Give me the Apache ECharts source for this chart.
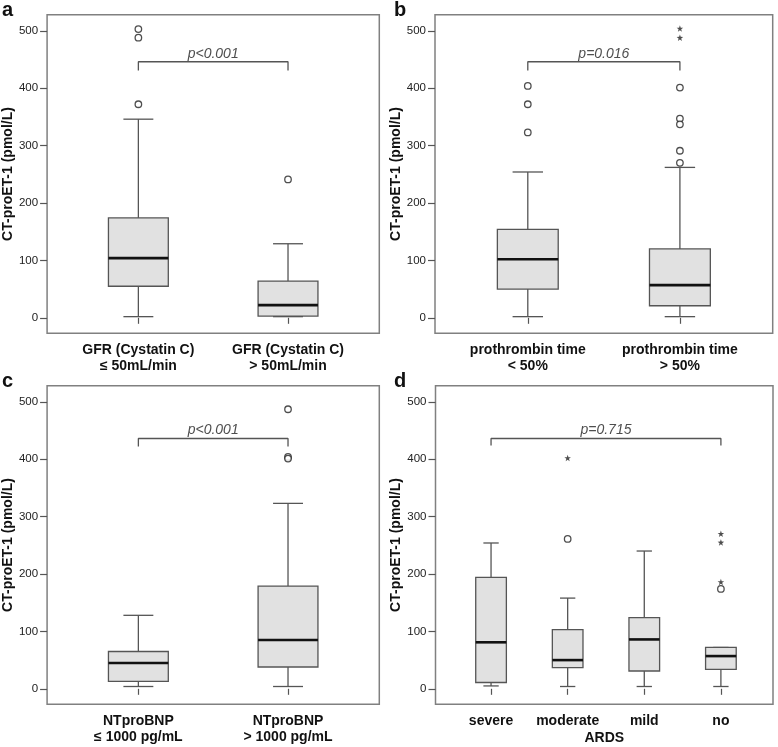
<!DOCTYPE html>
<html>
<head>
<meta charset="utf-8">
<script src="https://cdn.jsdelivr.net/npm/echarts@6/dist/echarts.min.js"></script>
<style>
html,body{margin:0;padding:0;background:#fff;}
#chart{width:778px;height:747px;}
</style>
</head>
<body>
<div id="chart"></div>
<script>
// ---------------- data ----------------
const yTicks = [0, 100, 200, 300, 400, 500];
const yAxisTitle = 'CT-proET-1 (pmol/L)';
const panelLetters = ['a', 'b', 'c', 'd'];

// panel a
const catsA = ['GFR (Cystatin C)\n≤ 50mL/min', 'GFR (Cystatin C)\n> 50mL/min'];
// [lower whisker, Q1, median, Q3, upper whisker]
const boxesA = [[2, 55, 104, 174, 346], [2, 3, 22, 64, 129]];
const outliersA = [[1, 503], [1, 488], [1, 372], [2, 241]];
const extremesA = [];
const pTextA = 'p<0.001';
const bracketA = [1, 2, 446, 431]; // from, to, top, end

// panel b
const catsB = ['prothrombin time\n< 50%', 'prothrombin time\n> 50%'];
const boxesB = [[2, 50, 102, 154, 254], [2, 21, 57, 120, 262]];
const outliersB = [[1, 404], [1, 372], [1, 323], [2, 401], [2, 347], [2, 337], [2, 291], [2, 270]];
const extremesB = [[2, 504], [2, 488]];
const pTextB = 'p=0.016';
const bracketB = [1, 2, 446, 431];

// panel c
const catsC = ['NTproBNP\n≤ 1000 pg/mL', 'NTproBNP\n> 1000 pg/mL'];
const boxesC = [[4, 13, 45, 65, 128], [4, 38, 85, 179, 323]];
const outliersC = [[2, 487], [2, 404], [2, 401]];
const extremesC = [];
const pTextC = 'p<0.001';
const bracketC = [1, 2, 436, 422];

// panel d
const catsD = ['severe', 'moderate', 'mild', 'no'];
const xTitleD = 'ARDS';
const boxesD = [[5, 11, 81, 194, 254], [4, 37, 50, 103, 158], [4, 31, 86, 124, 240], [4, 34, 57, 72, 72]];
const outliersD = [[2, 261], [4, 174]];
const extremesD = [[2, 402], [4, 270], [4, 255], [4, 186]];
const pTextD = 'p=0.715';
const bracketD = [1, 4, 436, 424];

// ---------------- styles ----------------
const FONT = '"Liberation Sans", Arial, sans-serif';
const BOX_W = 0.4;      // in category units
const CAP_RATIO = 0.5;  // whisker cap relative to box width
const STAR = 'path://M0,-1 L0.235,-0.324 L0.951,-0.309 L0.38,0.124 L0.588,0.809 L0,0.4 L-0.588,0.809 L-0.38,0.124 L-0.951,-0.309 L-0.235,-0.324 Z';

const panels = [
  {cats: catsA, boxes: boxesA, out: outliersA, ext: extremesA, p: pTextA, br: bracketA,
   grid: {left: 41.7, top: 14.7, width: 337.6, height: 318.6}, xr: [0.39, 2.61], nameGap: 26, letter: {left: 2, top: 0}},
  {cats: catsB, boxes: boxesB, out: outliersB, ext: extremesB, p: pTextB, br: bracketB,
   grid: {left: 435, top: 14.7, width: 337.7, height: 318.6}, xr: [0.39, 2.61], nameGap: 28, letter: {left: 394, top: 0}},
  {cats: catsC, boxes: boxesC, out: outliersC, ext: extremesC, p: pTextC, br: bracketC,
   grid: {left: 41.7, top: 385.7, width: 337.6, height: 318.6}, xr: [0.39, 2.61], nameGap: 26, letter: {left: 2, top: 371}},
  {cats: catsD, boxes: boxesD, out: outliersD, ext: extremesD, p: pTextD, br: bracketD, xname: xTitleD,
   grid: {left: 435.5, top: 385.7, width: 337.5, height: 318.6}, xr: [0.275, 4.68], nameGap: 28, letter: {left: 394, top: 371}}
];

function renderBox(params, api) {
  const x = api.value(0);
  const lo = api.coord([x, api.value(1)]);
  const q1 = api.coord([x, api.value(2)]);
  const md = api.coord([x, api.value(3)]);
  const q3 = api.coord([x, api.value(4)]);
  const hi = api.coord([x, api.value(5)]);
  const bw = api.size([BOX_W, 0])[0];
  const cw = bw * CAP_RATIO;
  const cx = lo[0];
  const ls = {stroke: '#555', lineWidth: 1.3, fill: null};
  const children = [
    {type: 'line', shape: {x1: cx, y1: q1[1], x2: cx, y2: lo[1]}, style: ls},
    {type: 'line', shape: {x1: cx, y1: q3[1], x2: cx, y2: hi[1]}, style: ls},
    {type: 'line', shape: {x1: cx - cw / 2, y1: lo[1], x2: cx + cw / 2, y2: lo[1]}, style: ls},
    {type: 'line', shape: {x1: cx - cw / 2, y1: hi[1], x2: cx + cw / 2, y2: hi[1]}, style: ls},
    {type: 'rect', shape: {x: cx - bw / 2, y: q3[1], width: bw, height: q1[1] - q3[1]},
     style: {fill: '#e1e1e1', stroke: '#555', lineWidth: 1.3}},
    {type: 'line', shape: {x1: cx - bw / 2, y1: md[1], x2: cx + bw / 2, y2: md[1]},
     style: {stroke: '#111', lineWidth: 2.6}}
  ];
  return {type: 'group', children: children};
}

const option = {
  animation: false,
  backgroundColor: '#fff',
  textStyle: {fontFamily: FONT},
  title: [], grid: [], xAxis: [], yAxis: [], series: []
};

panels.forEach((pn, i) => {
  option.title.push({
    text: panelLetters[i], left: pn.letter.left, top: pn.letter.top, padding: 0,
    textStyle: {fontFamily: FONT, fontSize: 20, fontWeight: 'bold', color: '#111'}
  });
  option.grid.push(Object.assign({show: true, borderColor: '#808080', borderWidth: 1.5, backgroundColor: 'transparent'}, pn.grid));
  const tickVals = pn.cats.map((c, k) => k + 1);
  option.xAxis.push({
    type: 'value', gridIndex: i, min: pn.xr[0], max: pn.xr[1],
    axisLine: {show: false}, splitLine: {show: false},
    axisTick: {show: true, length: 6, customValues: tickVals, lineStyle: {color: '#555', width: 1.2}},
    axisLabel: {
      show: true, customValues: tickVals, margin: 9,
      formatter: v => pn.cats[Math.round(v) - 1] || '',
      fontFamily: FONT, fontSize: 14, fontWeight: 'bold', color: '#111', lineHeight: 16
    },
    name: pn.xname || '', nameLocation: 'middle', nameGap: 27,
    nameTextStyle: {fontFamily: FONT, fontSize: 14, fontWeight: 'bold', color: '#111'}
  });
  option.yAxis.push({
    type: 'value', gridIndex: i, min: -27, max: 528,
    axisLine: {show: false}, splitLine: {show: false},
    axisTick: {show: true, length: 7, customValues: yTicks, lineStyle: {color: '#555', width: 1.2}},
    axisLabel: {show: true, customValues: yTicks, margin: 9, fontFamily: FONT, fontSize: 11.5, color: '#222'},
    name: yAxisTitle, nameLocation: 'middle', nameGap: pn.nameGap,
    nameTextStyle: {fontFamily: FONT, fontSize: 14, fontWeight: 'bold', color: '#111'}
  });
  option.series.push({
    type: 'custom', xAxisIndex: i, yAxisIndex: i, renderItem: renderBox,
    encode: {x: 0, y: [1, 2, 3, 4, 5]},
    data: pn.boxes.map((b, k) => [k + 1].concat(b)), z: 2
  });
  option.series.push({
    type: 'scatter', xAxisIndex: i, yAxisIndex: i, symbol: 'circle', symbolSize: 6.5,
    itemStyle: {color: '#fff', borderColor: '#222', borderWidth: 1.3}, data: pn.out, z: 3
  });
  option.series.push({
    type: 'scatter', xAxisIndex: i, yAxisIndex: i, symbol: STAR, symbolSize: 6.5,
    itemStyle: {color: '#222'}, data: pn.ext, z: 3
  });
  const br = pn.br;
  option.series.push({
    type: 'line', xAxisIndex: i, yAxisIndex: i, symbol: 'none',
    lineStyle: {color: '#555', width: 1.3},
    data: [[br[0], br[3]], [br[0], br[2]], [br[1], br[2]], [br[1], br[3]]], z: 2
  });
  option.series.push({
    type: 'scatter', xAxisIndex: i, yAxisIndex: i, symbolSize: 0,
    data: [[(br[0] + br[1]) / 2, br[2]]],
    label: {show: true, position: 'top', distance: 1, formatter: pn.p,
      fontFamily: FONT, fontSize: 14, fontStyle: 'italic', color: '#222'}, z: 4
  });
});

const chart = echarts.init(document.getElementById('chart'), null, {renderer: 'canvas'});
chart.setOption(option);
</script>
</body>
</html>
